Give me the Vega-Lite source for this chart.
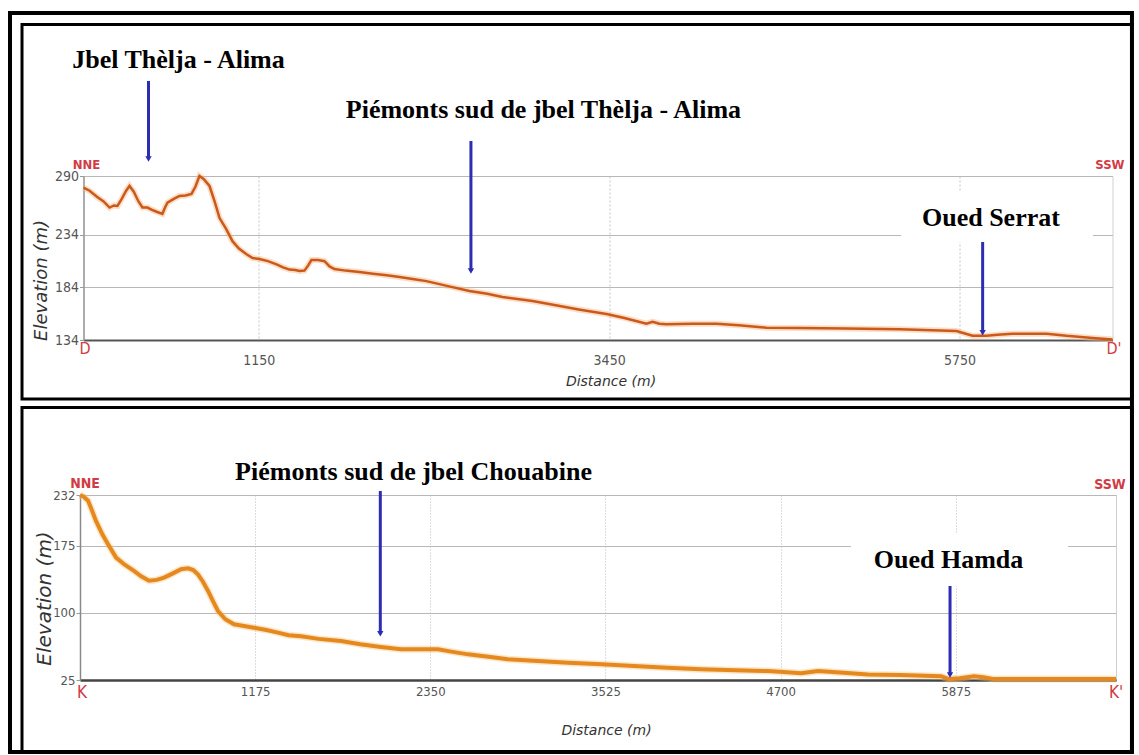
{
  "$schema": "https://vega.github.io/schema/vega-lite/v6.json",
  "background": "white",
  "padding": {"left": 7, "top": 10, "right": 0, "bottom": 0},
  "bounds": "flush",
  "center": true,
  "spacing": 155,
  "config": {
    "view": {"stroke": "#d0d0d0", "strokeWidth": 1},
    "font": "Liberation Sans"
  },
  "datasets": {
    "profileD": [
      {"d":0,"e":279},{"d":40,"e":276},{"d":90,"e":270},{"d":130,"e":266},{"d":171,"e":260},{"d":200,"e":262},{"d":223,"e":261.5},{"d":250,"e":268},{"d":280,"e":276},{"d":302,"e":280.5},{"d":330,"e":275},{"d":360,"e":266},{"d":387,"e":260},{"d":420,"e":260},{"d":446,"e":258},{"d":480,"e":256},{"d":518,"e":254},{"d":535,"e":260},{"d":551,"e":264.6},{"d":590,"e":268},{"d":630,"e":271},{"d":670,"e":271.5},{"d":709,"e":273},{"d":735,"e":280},{"d":761,"e":290},{"d":790,"e":287},{"d":827,"e":280.5},{"d":860,"e":266},{"d":893,"e":250},{"d":935,"e":240},{"d":978,"e":228},{"d":1020,"e":221},{"d":1070,"e":215.5},{"d":1110,"e":212},{"d":1155,"e":211},{"d":1210,"e":209},{"d":1267,"e":206},{"d":1310,"e":203},{"d":1352,"e":201},{"d":1390,"e":200.5},{"d":1418,"e":199.6},{"d":1450,"e":200},{"d":1475,"e":205},{"d":1496,"e":210},{"d":1540,"e":210},{"d":1582,"e":209},{"d":1615,"e":204},{"d":1647,"e":201.5},{"d":1720,"e":200},{"d":1811,"e":198.6},{"d":1900,"e":197},{"d":1990,"e":195.5},{"d":2074,"e":194},{"d":2160,"e":192},{"d":2251,"e":190},{"d":2400,"e":185},{"d":2533,"e":180.6},{"d":2650,"e":178},{"d":2750,"e":175},{"d":2947,"e":171},{"d":3100,"e":167},{"d":3250,"e":163},{"d":3433,"e":158.7},{"d":3550,"e":155},{"d":3695,"e":149.5},{"d":3735,"e":151.4},{"d":3780,"e":149.5},{"d":3826,"e":149},{"d":4000,"e":149.5},{"d":4155,"e":149.5},{"d":4300,"e":148},{"d":4483,"e":145.7},{"d":4699,"e":145.5},{"d":5000,"e":145},{"d":5356,"e":144.2},{"d":5730,"e":142.6},{"d":5835,"e":138},{"d":5927,"e":138},{"d":6000,"e":139},{"d":6097,"e":140},{"d":6321,"e":140},{"d":6452,"e":138},{"d":6623,"e":136},{"d":6754,"e":134.5}
    ],
    "frameD": [
      {"kind":"outer","d":-482.4,"d2":6881.7,"e":445.0,"e2":-257.9},
      {"kind":"panel","d":-403.6,"d2":6881.7,"e":434.1,"e2":77.9}
    ],
    "boxD": [{"d":5365.6,"d2":6625.7,"e":275.7,"e2":227.2}],
    "arrowsD": [
      {"d":426.6,"e":380.4,"e2":306.2},
      {"d":2543,"e":323.3,"e2":199.6},
      {"d":5901.7,"e":227.2,"e2":140.9}
    ],
    "headsD": [
      {"d":426.6,"e":306.2},
      {"d":2543,"e":199.6},
      {"d":5901.7,"e":140.9}
    ],
    "labelsD": [
      {"label":"Jbel Thèlja - Alima","d":623.5,"e":392.7},
      {"label":"Piémonts sud de jbel Thèlja - Alima","d":3019,"e":345.2},
      {"label":"Oued Serrat","d":5956,"e":242.4}
    ],
    "compassD": [
      {"label":"NNE","d":19.7,"e":300.5},
      {"label":"SSW","d":6737,"e":300.5}
    ],
    "endsD": [
      {"label":"D","d":10,"e":125.9},
      {"label":"D'","d":6763.6,"e":125.9}
    ],
    "profileK": [
      {"d":0,"e":232},{"d":25,"e":230},{"d":54,"e":225.6},{"d":80,"e":215},{"d":107,"e":203},{"d":150,"e":188},{"d":188,"e":177},{"d":242,"e":162},{"d":300,"e":154},{"d":362,"e":147},{"d":410,"e":141},{"d":463,"e":136},{"d":515,"e":137},{"d":564,"e":139.5},{"d":620,"e":144},{"d":678,"e":149},{"d":725,"e":150},{"d":760,"e":148},{"d":792,"e":143},{"d":825,"e":135},{"d":859,"e":124.6},{"d":893,"e":113},{"d":926,"e":102},{"d":975,"e":93},{"d":1033,"e":87.3},{"d":1100,"e":85.5},{"d":1167,"e":83.5},{"d":1250,"e":81},{"d":1328,"e":78},{"d":1400,"e":75},{"d":1483,"e":74},{"d":1600,"e":71},{"d":1751,"e":68.6},{"d":1880,"e":65},{"d":2019,"e":62},{"d":2154,"e":59.3},{"d":2280,"e":59.3},{"d":2402,"e":59.3},{"d":2500,"e":56.5},{"d":2603,"e":53.7},{"d":2740,"e":51},{"d":2871,"e":48.2},{"d":3070,"e":46.3},{"d":3274,"e":44.4},{"d":3500,"e":42.5},{"d":3717,"e":40.6},{"d":3940,"e":38.8},{"d":4166,"e":37},{"d":4400,"e":36},{"d":4616,"e":35},{"d":4720,"e":34},{"d":4837,"e":32.5},{"d":4900,"e":34},{"d":4951,"e":35},{"d":5100,"e":33.5},{"d":5287,"e":31.2},{"d":5500,"e":30.5},{"d":5776,"e":29.3},{"d":5830,"e":26},{"d":5900,"e":27},{"d":5998,"e":29.3},{"d":6060,"e":28},{"d":6132,"e":26},{"d":6500,"e":26},{"d":6950,"e":26}
    ],
    "frameK": [{"d":-389.1,"d2":7057.6,"e":329.9,"e2":-55.6}],
    "boxK": [{"d":5172,"d2":6628,"e":188.4,"e2":130.2}],
    "arrowsK": [
      {"d":2014.6,"e":236.5,"e2":76.8},
      {"d":5836.6,"e":130.2,"e2":30.6}
    ],
    "headsK": [
      {"d":2014.6,"e":76.8},
      {"d":5836.6,"e":30.6}
    ],
    "labelsK": [
      {"label":"Piémonts sud de jbel Chouabine","d":2237.4,"e":248.4},
      {"label":"Oued Hamda","d":5826.5,"e":150.3}
    ],
    "compassK": [
      {"label":"NNE","d":33.5,"e":244.3},
      {"label":"SSW","d":6910,"e":243.2}
    ],
    "endsK": [
      {"label":"K","d":13.4,"e":11},
      {"label":"K'","d":6950,"e":11}
    ]
  },
  "vconcat": [
    {
      "width": 1029,
      "height": 164,
      "encoding": {
        "x": {
          "field": "d", "type": "quantitative",
          "scale": {"domain": [0, 6754], "nice": false, "zero": false},
          "axis": {
            "values": [1150, 3450, 5750], "format": "d", "title": "Distance (m)",
            "grid": true, "gridColor": "#c4c4c4", "gridDash": [2, 2], "gridWidth": 1,
            "domainColor": "#555555", "domainWidth": 2, "ticks": false,
            "labelPadding": 13, "labelFontSize": 14, "labelColor": "#555555",
            "labelFont": "'DejaVu Sans Condensed', 'Liberation Sans Narrow', 'Liberation Sans'",
            "titleFont": "DejaVu Sans", "titleFontSize": 14, "titleFontStyle": "italic", "titleFontWeight": "normal", "titleColor": "#333333",
            "titleX": 527, "titleY": 41, "titleBaseline": "middle", "titleAlign": "center"
          }
        },
        "y": {
          "field": "e", "type": "quantitative",
          "scale": {"domain": [134, 290], "nice": false, "zero": false},
          "axis": {
            "values": [134, 184, 234, 290], "format": "d", "title": "Elevation (m)",
            "grid": true, "gridColor": "#b8b8b8", "gridWidth": 1,
            "domainColor": "#999999", "domainWidth": 1.5, "tickSize": 4, "tickColor": "#999999",
            "labelPadding": 1, "labelFontSize": 14, "labelColor": "#555555",
            "labelFont": "'DejaVu Sans Condensed', 'Liberation Sans Narrow', 'Liberation Sans'",
            "titleFont": "DejaVu Sans", "titleFontSize": 18, "titleFontStyle": "italic", "titleFontWeight": "normal", "titleColor": "#333333",
            "titleLimit": 400,
            "titleX": -42, "titleY": 104, "titleBaseline": "middle", "titleAlign": "center", "titleAngle": 270
          }
        }
      },
      "layer": [
        {
          "data": {"name": "frameD"},
          "transform": [{"filter": "datum.kind == 'outer'"}],
          "mark": {"type": "rect", "filled": false, "color": "black", "strokeWidth": 4, "clip": false},
          "encoding": {"x2": {"field": "d2"}, "y2": {"field": "e2"}}
        },
        {
          "data": {"name": "frameD"},
          "transform": [{"filter": "datum.kind == 'panel'"}],
          "mark": {"type": "rect", "filled": false, "color": "black", "strokeWidth": 3, "clip": false},
          "encoding": {"x2": {"field": "d2"}, "y2": {"field": "e2"}}
        },
        {
          "data": {"name": "boxD"},
          "mark": {"type": "rect", "fill": "white", "strokeWidth": 0, "clip": false},
          "encoding": {"x2": {"field": "d2"}, "y2": {"field": "e2"}}
        },
        {
          "data": {"name": "profileD"},
          "mark": {"type": "line", "color": "#f4b684", "strokeWidth": 6, "opacity": 0.45, "clip": false},
          "encoding": {}
        },
        {
          "data": {"name": "profileD"},
          "mark": {"type": "line", "color": "#cb5a1a", "strokeWidth": 2.5, "clip": false},
          "encoding": {}
        },
        {
          "data": {"name": "arrowsD"},
          "mark": {"type": "rule", "color": "#2c2cb5", "strokeWidth": 3, "clip": false},
          "encoding": {"y2": {"field": "e2"}}
        },
        {
          "data": {"name": "headsD"},
          "mark": {"type": "point", "shape": "triangle-down", "filled": true, "color": "#2c2cb5", "size": 40, "opacity": 1, "clip": false}
        },
        {
          "data": {"name": "labelsD"},
          "mark": {"type": "text", "font": "Liberation Serif", "fontWeight": "bold", "fontSize": 26, "color": "black", "align": "center", "baseline": "alphabetic", "clip": false},
          "encoding": {"text": {"field": "label"}}
        },
        {
          "data": {"name": "compassD"},
          "mark": {"type": "text", "font": "'DejaVu Sans Condensed', 'Liberation Sans Narrow', 'Liberation Sans'", "fontWeight": "bold", "fontSize": 13, "color": "#d13b45", "align": "center", "baseline": "middle", "clip": false},
          "encoding": {"text": {"field": "label"}}
        },
        {
          "data": {"name": "endsD"},
          "mark": {"type": "text", "font": "'DejaVu Sans Condensed', 'Liberation Sans Narrow', 'Liberation Sans'", "fontSize": 16, "color": "#d13b45", "align": "center", "baseline": "middle", "clip": false},
          "encoding": {"text": {"field": "label"}}
        }
      ]
    },
    {
      "width": 1036,
      "height": 185,
      "encoding": {
        "x": {
          "field": "d", "type": "quantitative",
          "scale": {"domain": [0, 6950], "nice": false, "zero": false},
          "axis": {
            "values": [1175, 2350, 3525, 4700, 5875], "format": "d", "title": "Distance (m)",
            "grid": true, "gridColor": "#bdbdbd", "gridDash": [1, 2], "gridWidth": 1,
            "domainColor": "#444444", "domainWidth": 2.5, "ticks": false,
            "labelPadding": 5, "labelFontSize": 13, "labelColor": "#555555",
            "labelFont": "'DejaVu Sans Condensed', 'Liberation Sans Narrow', 'Liberation Sans'",
            "titleFont": "DejaVu Sans", "titleFontSize": 14, "titleFontStyle": "italic", "titleFontWeight": "normal", "titleColor": "#333333",
            "titleX": 526, "titleY": 50, "titleBaseline": "middle", "titleAlign": "center"
          }
        },
        "y": {
          "field": "e", "type": "quantitative",
          "scale": {"domain": [25, 232], "nice": false, "zero": false},
          "axis": {
            "values": [25, 100, 175, 232], "format": "d", "title": "Elevation (m)",
            "grid": true, "gridColor": "#b8b8b8", "gridWidth": 1,
            "domainColor": "#888888", "domainWidth": 1.5, "tickSize": 4, "tickColor": "#999999",
            "labelPadding": 1, "labelFontSize": 13, "labelColor": "#555555",
            "labelFont": "'DejaVu Sans Condensed', 'Liberation Sans Narrow', 'Liberation Sans'",
            "titleFont": "DejaVu Sans", "titleFontSize": 20, "titleFontStyle": "italic", "titleFontWeight": "normal", "titleColor": "#333333",
            "titleLimit": 400,
            "titleX": -36, "titleY": 103, "titleBaseline": "middle", "titleAlign": "center", "titleAngle": 270
          }
        }
      },
      "layer": [
        {
          "data": {"name": "frameK"},
          "mark": {"type": "rect", "filled": false, "color": "black", "strokeWidth": 3, "clip": false},
          "encoding": {"x2": {"field": "d2"}, "y2": {"field": "e2"}}
        },
        {
          "data": {"name": "boxK"},
          "mark": {"type": "rect", "fill": "white", "strokeWidth": 0, "clip": false},
          "encoding": {"x2": {"field": "d2"}, "y2": {"field": "e2"}}
        },
        {
          "data": {"name": "profileK"},
          "mark": {"type": "line", "color": "#f6c27a", "strokeWidth": 7, "opacity": 0.4, "clip": false},
          "encoding": {}
        },
        {
          "data": {"name": "profileK"},
          "mark": {"type": "line", "color": "#e5891e", "strokeWidth": 4, "clip": false},
          "encoding": {}
        },
        {
          "data": {"name": "arrowsK"},
          "mark": {"type": "rule", "color": "#2c2cb5", "strokeWidth": 3, "clip": false},
          "encoding": {"y2": {"field": "e2"}}
        },
        {
          "data": {"name": "headsK"},
          "mark": {"type": "point", "shape": "triangle-down", "filled": true, "color": "#2c2cb5", "size": 40, "opacity": 1, "clip": false}
        },
        {
          "data": {"name": "labelsK"},
          "mark": {"type": "text", "font": "Liberation Serif", "fontWeight": "bold", "fontSize": 26, "color": "black", "align": "center", "baseline": "alphabetic", "clip": false},
          "encoding": {"text": {"field": "label"}}
        },
        {
          "data": {"name": "compassK"},
          "mark": {"type": "text", "font": "'DejaVu Sans Condensed', 'Liberation Sans Narrow', 'Liberation Sans'", "fontWeight": "bold", "fontSize": 14, "color": "#d13b45", "align": "center", "baseline": "middle", "clip": false},
          "encoding": {"text": {"field": "label"}}
        },
        {
          "data": {"name": "endsK"},
          "mark": {"type": "text", "font": "'DejaVu Sans Condensed', 'Liberation Sans Narrow', 'Liberation Sans'", "fontSize": 17, "color": "#d13b45", "align": "center", "baseline": "middle", "clip": false},
          "encoding": {"text": {"field": "label"}}
        }
      ]
    }
  ]
}
